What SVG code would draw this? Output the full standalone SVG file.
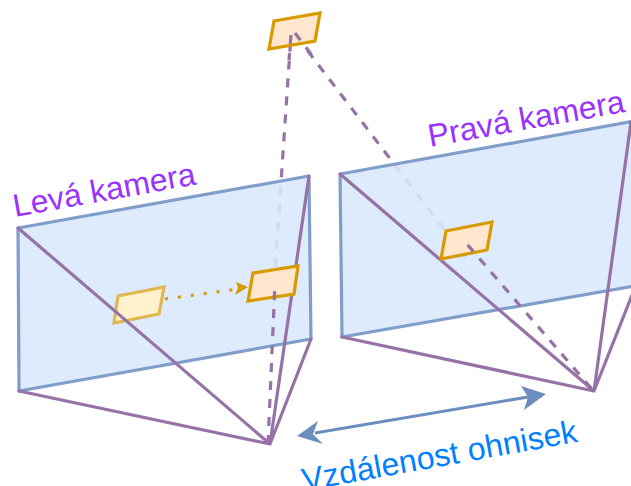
<svg xmlns="http://www.w3.org/2000/svg" width="631" height="486" viewBox="0 0 631 486">
<style>
.plane{fill:#dae8fc;fill-opacity:.88;stroke:#6c8ebf;stroke-opacity:.85;stroke-width:3.2;stroke-linejoin:round}
.ray{fill:none;stroke:#9673a6;stroke-width:3.2;stroke-linejoin:round;stroke-linecap:round}
.dash{fill:none;stroke:#9673a6;stroke-width:3.2;stroke-dasharray:9 9}
.obj{fill:#ffe6cc;stroke:#d79b00;stroke-width:3.2}
.obj2{fill:#fff2cc;stroke:#d79b00;stroke-opacity:.65;stroke-width:3.2}
.lab{font-family:"Liberation Sans",Arial,sans-serif;font-size:32px}
.cam{fill:#9933ff}
.dist{fill:#007fff}
</style>
<rect width="631" height="486" fill="#ffffff"/>
<g id="connectors-back">
<path class="dash" d="M274 285L291 35"/>
<path class="dash" d="M466 258L294 33"/>
</g>
<g id="left-camera">
<path class="plane" d="M18 228L309 176L311 339L19 391Z"/>
<text class="lab cam" transform="translate(15 217) rotate(-10.2)">Levá kamera</text>
</g>
<g id="left-source"><path class="obj2" d="M118 296L164 287L159 314L114 323Z"/></g>
<g id="right-camera">
<path class="plane" d="M340 174L640 120L640 285L342 337Z"/>
<text class="lab cam" transform="translate(430 147) rotate(-10.2)">Pravá kamera</text>
</g>
<g id="rays">
<path class="ray" d="M18 228L270 444L19 391M270 444L309 176M270 444L311 339"/>
<path class="ray" d="M340 174L594 391L342 337M594 391L631 122M594 391L636 285"/>
</g>
<g id="left-image"><path class="obj" d="M253 273L298 266L294 294L248 301Z"/></g>
<g id="right-image"><path class="obj" d="M446 231L492 222L487 250L441 259Z"/></g>
<g id="top-object"><path class="obj" d="M274 21L320 13L315 41L269 49Z"/></g>
<g id="connectors">
<path class="dash" d="M268 444L275 283"/>
<path class="dash" d="M591 388L466 243"/>
<path class="dash" d="M291 35L289 60"/>
<path class="dash" d="M295 33L314 58"/>
<path d="M165 299L238 289" fill="none" stroke="#d79b00" stroke-width="3" stroke-dasharray="3 10"/>
<path d="M248 287L235 295L238 288L236 282Z" fill="#d79b00"/>
<path d="M315 433L528 397" fill="none" stroke="#6c8ebf" stroke-width="3"/>
<path d="M297 436L318 421L313 434L323 444Z" fill="#6c8ebf"/>
<path d="M546 394L524 410L528 397L521 386Z" fill="#6c8ebf"/>
</g>
<g id="distance-label">
<text class="lab dist" transform="translate(304 491) rotate(-10.2)" textLength="279">Vzdálenost ohnisek</text>
</g>
</svg>
